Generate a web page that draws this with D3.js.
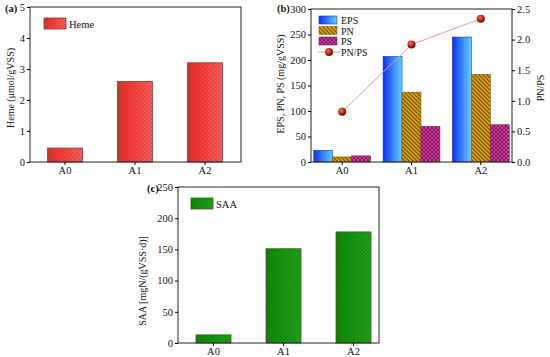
<!DOCTYPE html>
<html>
<head>
<meta charset="utf-8">
<script src="https://cdn.jsdelivr.net/npm/d3@7"></script>
<style>
  body { margin: 0; background: #fff; }
  text { font-family: "Liberation Serif", "Times New Roman", serif; fill: #111; }
</style>
</head>
<body>
<script>
// panel sizes
var w = 550, h = 357;

// data
var groups = ["A0", "A1", "A2"];
var heme = [0.45, 2.6, 3.2];
var eps = [23, 207, 245];
var pn = [10, 137, 172];
var ps = [12, 70, 73];
var pnps = [0.82, 1.92, 2.34];
var saa = [13, 151, 178];
var hemeTicks = [0, 1, 2, 3, 4, 5];
var epsTicks = [0, 50, 100, 150, 200, 250, 300];
var ratioTicks = [0, 0.5, 1.0, 1.5, 2.0, 2.5];
var saaTicks = [0, 50, 100, 150, 200, 250];

var svg = d3.select("body").append("svg")
    .attr("width", w)
    .attr("height", h);

var defs = svg.append("defs");

// horizontal gradients
function grad(id, stops){
    var g = defs.append("linearGradient").attr("id", id)
        .attr("x1", "0%").attr("x2", "100%").attr("y1", "0%").attr("y2", "0%");
    stops.forEach(function(s){
        g.append("stop").attr("offset", s[0]).attr("stop-color", s[1]);
    });
}
grad("gEps", [["0%", "#1030f0"], ["100%", "#60d0ff"]]);
grad("gHeme", [["0%", "#a04a30"], ["12%", "#e83030"], ["45%", "#ff3a3a"], ["100%", "#f06060"]]);
grad("gSaa", [["0%", "#2a7a10"], ["15%", "#109a10"], ["100%", "#20b020"]]);

// stripe patterns
function stripes(id, bg, fg, size, sw){
    var p = defs.append("pattern").attr("id", id)
        .attr("patternUnits", "userSpaceOnUse")
        .attr("width", size).attr("height", size);
    if (bg) p.append("rect").attr("width", size).attr("height", size).attr("fill", bg);
    p.append("path")
        .attr("d", "M0,0 L" + size + "," + size + " M-1," + (size - 1) + " L1," + (size + 1) +
              " M" + (size - 1) + ",-1 L" + (size + 1) + ",1")
        .attr("stroke", fg).attr("stroke-width", sw);
}
stripes("pHeme", null, "rgba(150,60,50,0.45)", 4, 1);
stripes("pSaa", null, "rgba(20,70,0,0.55)", 3.5, 1);
stripes("pPn", "#f5a500", "#6a5a10", 4, 1.3);

var cross = defs.append("pattern").attr("id", "pPs")
    .attr("patternUnits", "userSpaceOnUse").attr("width", 4).attr("height", 4);
cross.append("rect").attr("width", 4).attr("height", 4).attr("fill", "#d03a9a");
cross.append("path").attr("d", "M0,0 L4,4 M4,0 L0,4").attr("stroke", "#6a1050").attr("stroke-width", 0.8);

var ball = defs.append("radialGradient").attr("id", "gBall")
    .attr("cx", "40%").attr("cy", "35%").attr("r", "65%");
ball.append("stop").attr("offset", "0%").attr("stop-color", "#f08060");
ball.append("stop").attr("offset", "60%").attr("stop-color", "#b02010");
ball.append("stop").attr("offset", "100%").attr("stop-color", "#601008");

// draws a frame box around a plot area
function frame(x0, x1, y0, y1){
    svg.append("rect")
        .attr("x", x0).attr("y", y0)
        .attr("width", x1 - x0).attr("height", y1 - y0)
        .attr("fill", "none").attr("stroke", "#222").attr("stroke-width", 1);
}

function leftAxis(y, x0, ticks, fmt){
    svg.append("g")
        .attr("transform", "translate(" + x0 + ",0)")
        .call(d3.axisLeft(y).tickValues(ticks).tickSize(3).tickPadding(2).tickFormat(fmt))
        .call(function(g){ g.select(".domain").remove(); })
        .selectAll("text").style("font-family", "Liberation Serif").style("font-size", "10.5px");
}

function bottomAxis(x, y0){
    svg.append("g")
        .attr("transform", "translate(0," + y0 + ")")
        .call(d3.axisBottom(x).tickSize(3).tickPadding(2))
        .call(function(g){ g.select(".domain").remove(); })
        .selectAll("text").style("font-family", "Liberation Serif").style("font-size", "10.5px");
}

function yLabel(text, x, y){
    svg.append("text")
        .attr("transform", "translate(" + x + "," + y + ") rotate(-90)")
        .attr("text-anchor", "middle")
        .style("font-size", "10px")
        .text(text);
}

function tag(text, x, y){
    svg.append("text").attr("x", x).attr("y", y)
        .style("font-size", "10.5px").style("font-weight", "bold")
        .text(text);
}

// ---------- panel (a) ----------
var xa = d3.scaleBand().domain(groups).range([30, 240]).paddingInner(0.5).paddingOuter(0.25);
var ya = d3.scaleLinear().domain([0, 5]).range([162, 7]);

var barsA = svg.selectAll(".heme").data(heme).enter();
barsA.append("rect").attr("class", "heme")
    .attr("x", function(d, i){ return xa(groups[i]); })
    .attr("y", function(d){ return ya(d); })
    .attr("width", xa.bandwidth())
    .attr("height", function(d){ return ya(0) - ya(d); })
    .attr("fill", "url(#gHeme)");
barsA.append("rect")
    .attr("x", function(d, i){ return xa(groups[i]); })
    .attr("y", function(d){ return ya(d); })
    .attr("width", xa.bandwidth())
    .attr("height", function(d){ return ya(0) - ya(d); })
    .attr("fill", "url(#pHeme)")
    .attr("stroke", "#8a4030").attr("stroke-width", 0.8);

frame(30, 241, 7, 162);
leftAxis(ya, 30, hemeTicks, d3.format("d"));
bottomAxis(xa, 162);
yLabel("Heme (\u03bcmol/gVSS)", 14, 88);
tag("(a)", 5, 12);

// legend (a)
svg.append("rect").attr("x", 44).attr("y", 18).attr("width", 22).attr("height", 11).attr("fill", "url(#gHeme)");
svg.append("rect").attr("x", 44).attr("y", 18).attr("width", 22).attr("height", 11)
    .attr("fill", "url(#pHeme)").attr("stroke", "#8a4030").attr("stroke-width", 0.8);
svg.append("text").attr("x", 69).attr("y", 28).style("font-size", "10.5px").text("Heme");

// ---------- panel (b) ----------
var series = ["EPS", "PN", "PS"];
var seriesVals = [eps, pn, ps];
var seriesFill = ["url(#gEps)", "url(#pPn)", "url(#pPs)"];
var seriesStroke = ["#1a3ab0", "#806010", "#7a2060"];

var xb = d3.scaleBand().domain(groups).range([311, 512]).paddingInner(0.18).paddingOuter(0.04);
var xs = d3.scaleBand().domain(series).range([0, xb.bandwidth()]);
var yb = d3.scaleLinear().domain([0, 300]).range([162, 9]);
var yr = d3.scaleLinear().domain([0, 2.5]).range([162, 9]);

series.forEach(function(s, k){
    svg.selectAll(".bar" + s).data(seriesVals[k]).enter()
        .append("rect").attr("class", "bar" + s)
        .attr("x", function(d, i){ return xb(groups[i]) + xs(s); })
        .attr("y", function(d){ return yb(d); })
        .attr("width", xs.bandwidth())
        .attr("height", function(d){ return yb(0) - yb(d); })
        .attr("fill", seriesFill[k])
        .attr("stroke", seriesStroke[k]).attr("stroke-width", 0.6);
});

var line = d3.line()
    .x(function(d, i){ return xb(groups[i]) + xb.bandwidth() / 2; })
    .y(function(d){ return yr(d); });
svg.append("path").datum(pnps)
    .attr("d", line)
    .attr("fill", "none").attr("stroke", "#e0a090").attr("stroke-width", 1);
svg.selectAll(".ratio").data(pnps).enter()
    .append("circle").attr("class", "ratio")
    .attr("cx", function(d, i){ return xb(groups[i]) + xb.bandwidth() / 2; })
    .attr("cy", function(d){ return yr(d); })
    .attr("r", 4)
    .attr("fill", "url(#gBall)");

frame(311, 512, 9, 162);
leftAxis(yb, 311, epsTicks, d3.format("d"));
svg.append("g")
    .attr("transform", "translate(512,0)")
    .call(d3.axisRight(yr).tickValues(ratioTicks).tickSize(3).tickPadding(2).tickFormat(d3.format(".1f")))
    .call(function(g){ g.select(".domain").remove(); })
    .selectAll("text").style("font-family", "Liberation Serif").style("font-size", "10.5px");
bottomAxis(xb, 162);
yLabel("EPS, PN, PS (mg/gVSS)", 284, 84);
yLabel("PN/PS", 544, 88);
tag("(b)", 277, 12);

// legend (b)
series.forEach(function(s, k){
    svg.append("rect").attr("x", 319).attr("y", 16 + k * 10.5).attr("width", 18).attr("height", 8)
        .attr("fill", seriesFill[k]).attr("stroke", seriesStroke[k]).attr("stroke-width", 0.6);
    svg.append("text").attr("x", 341).attr("y", 24 + k * 10.5).style("font-size", "10px").text(s);
});
svg.append("line").attr("x1", 318).attr("x2", 340).attr("y1", 52).attr("y2", 52)
    .attr("stroke", "#e0a090").attr("stroke-width", 1);
svg.append("circle").attr("cx", 329).attr("cy", 52).attr("r", 4).attr("fill", "url(#gBall)");
svg.append("text").attr("x", 341).attr("y", 56).style("font-size", "10px").text("PN/PS");

// ---------- panel (c) ----------
var xc = d3.scaleBand().domain(groups).range([178.5, 388.5]).paddingInner(0.5).paddingOuter(0.25);
var yc = d3.scaleLinear().domain([0, 250]).range([343, 187]);

var barsC = svg.selectAll(".saa").data(saa).enter();
barsC.append("rect").attr("class", "saa")
    .attr("x", function(d, i){ return xc(groups[i]); })
    .attr("y", function(d){ return yc(d); })
    .attr("width", xc.bandwidth())
    .attr("height", function(d){ return yc(0) - yc(d); })
    .attr("fill", "url(#gSaa)");
barsC.append("rect")
    .attr("x", function(d, i){ return xc(groups[i]); })
    .attr("y", function(d){ return yc(d); })
    .attr("width", xc.bandwidth())
    .attr("height", function(d){ return yc(0) - yc(d); })
    .attr("fill", "url(#pSaa)")
    .attr("stroke", "#2a6a10").attr("stroke-width", 0.8);

frame(178, 379, 187, 343);
leftAxis(yc, 178, saaTicks, d3.format("d"));
bottomAxis(xc, 343);
yLabel("SAA [mgN/(gVSS\u00b7d)]", 146, 281);
tag("(c)", 147, 192);

// legend (c)
svg.append("rect").attr("x", 191).attr("y", 198).attr("width", 22).attr("height", 11).attr("fill", "url(#gSaa)");
svg.append("rect").attr("x", 191).attr("y", 198).attr("width", 22).attr("height", 11)
    .attr("fill", "url(#pSaa)").attr("stroke", "#2a6a10").attr("stroke-width", 0.8);
svg.append("text").attr("x", 216).attr("y", 208).style("font-size", "10.5px").text("SAA");
</script>
</body>
</html>
